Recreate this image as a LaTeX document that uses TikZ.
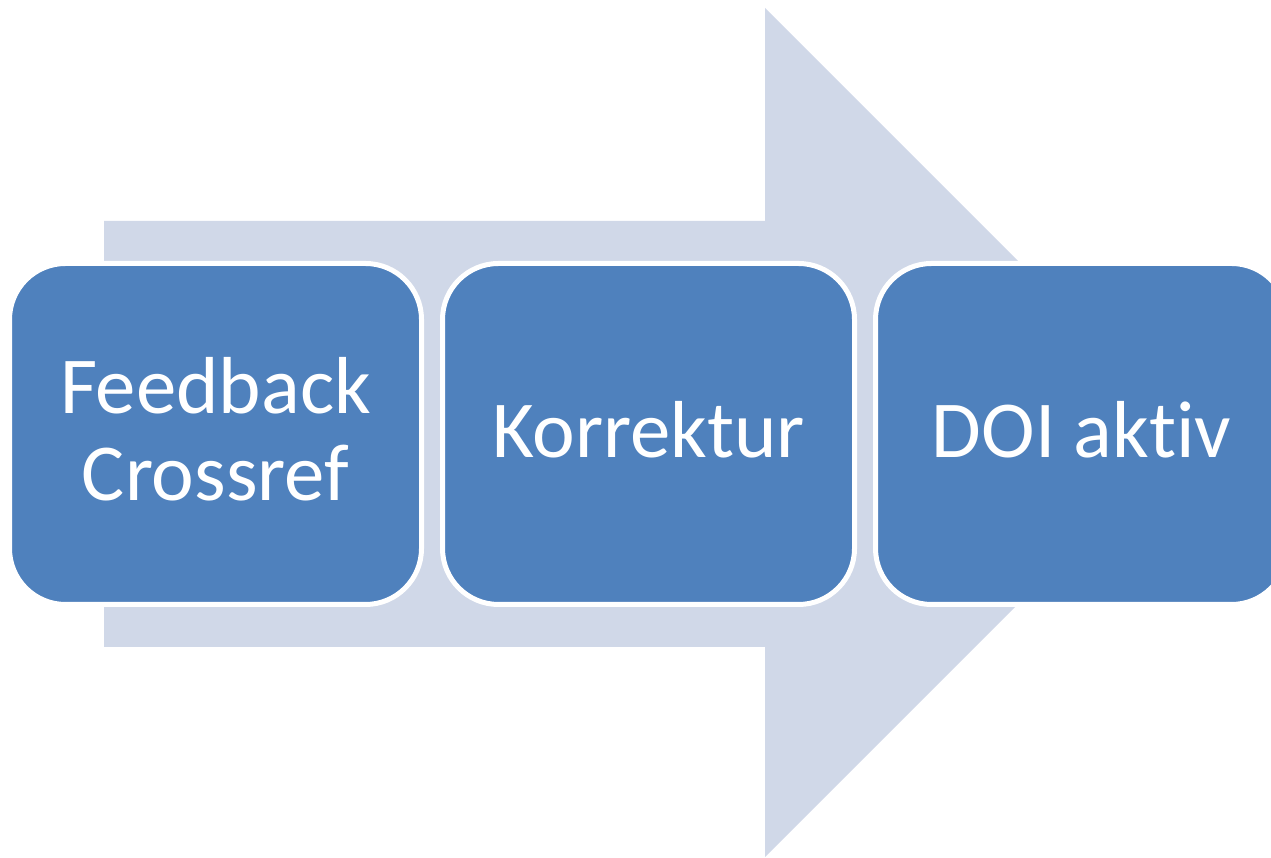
\documentclass[tikz,border=0pt]{standalone}
\usepackage{fontspec}
\setmainfont[Ligatures=NoCommon]{Carlito}
\usetikzlibrary{positioning}
\definecolor{boxblue}{RGB}{79,129,189}
\definecolor{arrowgrey}{RGB}{208,216,232}

\begin{document}
\begin{tikzpicture}[
    stagebox/.style={rounded corners=0.56cm, draw=white, line width=0.05cm, fill=boxblue,
        minimum width=4.12cm, minimum height=3.41cm, inner sep=0pt, align=center,
        text depth=0.1cm, text=white, font=\fontsize{23}{24.5}\selectfont}
]
                \useasboundingbox (0,0) rectangle (12.71,8.58);
                \clip (0,0) rectangle (12.71,8.58);

                % big arrow behind the stages
                \fill[arrowgrey] (1.04,6.37) -- (7.65,6.37) -- (7.65,8.50) -- (11.895,4.255)
                    -- (7.65,0.01) -- (7.65,2.11) -- (1.04,2.11) -- cycle;

                \node[stagebox] (feedback) at (2.155,4.24) {Feedback\\Crossref};
                \node[stagebox] (korrektur) at (6.485,4.24) {Korrektur};
                \node[stagebox] (doi) at (10.815,4.24) {DOI aktiv};
            \end{tikzpicture}
\end{document}
